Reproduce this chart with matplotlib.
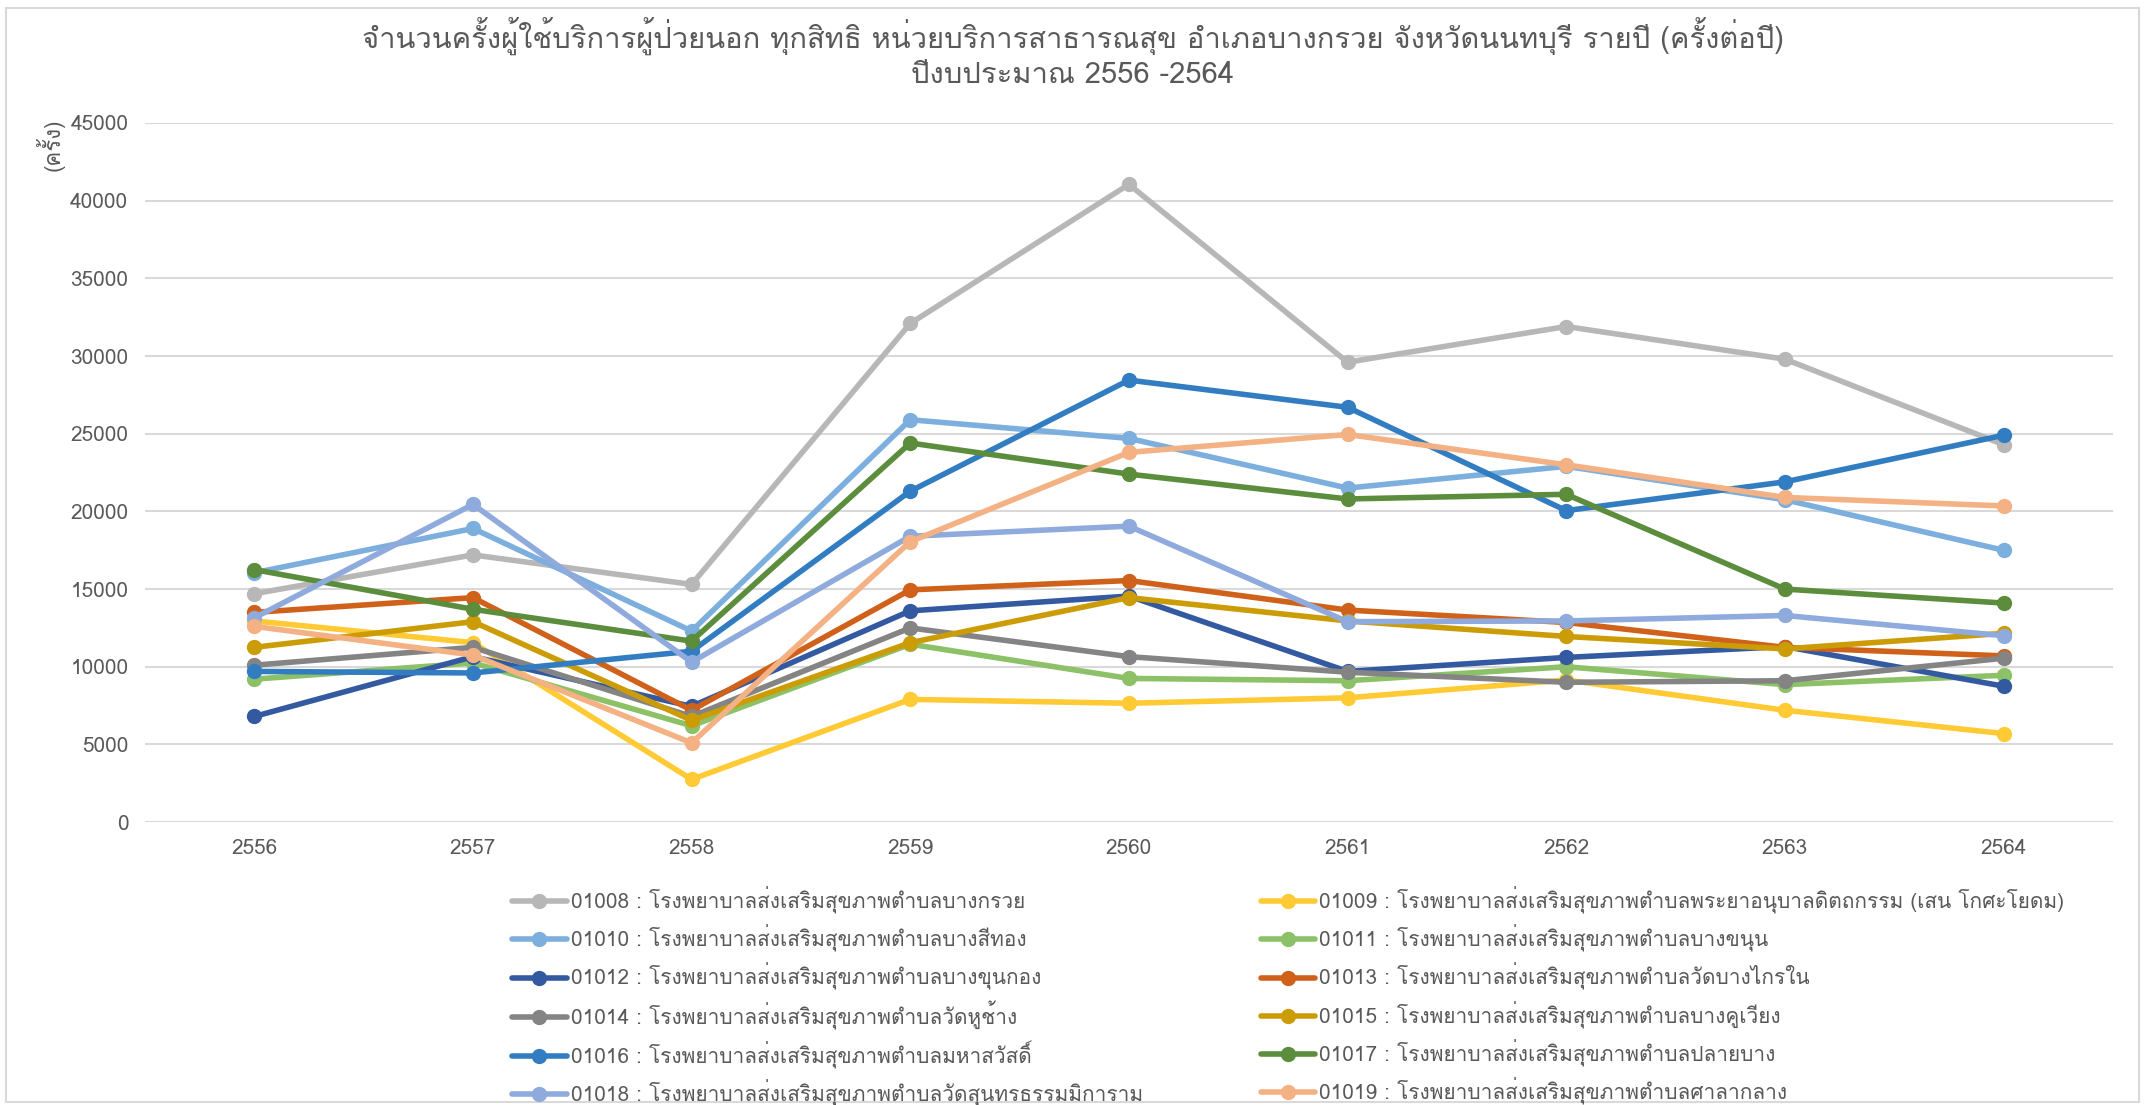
import matplotlib
matplotlib.use("Agg")
import matplotlib.pyplot as plt
from matplotlib import font_manager
from matplotlib.ft2font import FT2Font
from matplotlib.patches import Rectangle


def thai_fonts():
    # look for any installed font that carries Thai glyphs
    names = []
    for f in font_manager.fontManager.ttflist:
        try:
            if 0x0E01 in FT2Font(f.fname).get_charmap() and f.name not in names:
                names.append(f.name)
        except Exception:
            pass
    return names


years = ["2556", "2557", "2558", "2559", "2560", "2561", "2562", "2563", "2564"]

labels = [
    "01008 : โรงพยาบาลส่งเสริมสุขภาพตำบลบางกรวย",
    "01009 : โรงพยาบาลส่งเสริมสุขภาพตำบลพระยาอนุบาลดิตถกรรม (เสน โกศะโยดม)",
    "01010 : โรงพยาบาลส่งเสริมสุขภาพตำบลบางสีทอง",
    "01011 : โรงพยาบาลส่งเสริมสุขภาพตำบลบางขนุน",
    "01012 : โรงพยาบาลส่งเสริมสุขภาพตำบลบางขุนกอง",
    "01013 : โรงพยาบาลส่งเสริมสุขภาพตำบลวัดบางไกรใน",
    "01014 : โรงพยาบาลส่งเสริมสุขภาพตำบลวัดหูช้าง",
    "01015 : โรงพยาบาลส่งเสริมสุขภาพตำบลบางคูเวียง",
    "01016 : โรงพยาบาลส่งเสริมสุขภาพตำบลมหาสวัสดิ์",
    "01017 : โรงพยาบาลส่งเสริมสุขภาพตำบลปลายบาง",
    "01018 : โรงพยาบาลส่งเสริมสุขภาพตำบลวัดสุนทรธรรมมิการาม",
    "01019 : โรงพยาบาลส่งเสริมสุขภาพตำบลศาลากลาง",
]

v01008 = [14700, 17200, 15300, 32100, 41050, 29600, 31900, 29800, 24300]
v01009 = [12950, 11550, 2750, 7900, 7650, 8000, 9150, 7200, 5700]
v01010 = [16050, 18900, 12300, 25900, 24700, 21500, 22900, 20750, 17500]
v01011 = [9200, 10250, 6200, 11450, 9250, 9100, 10000, 8850, 9450]
v01012 = [6800, 10650, 7450, 13600, 14550, 9700, 10600, 11300, 8750]
v01013 = [13500, 14450, 7200, 14950, 15550, 13650, 12850, 11250, 10700]
v01014 = [10100, 11250, 6800, 12500, 10650, 9650, 9000, 9100, 10550]
v01015 = [11250, 12900, 6550, 11550, 14450, 12950, 11950, 11150, 12150]
v01016 = [9700, 9600, 11000, 21300, 28450, 26700, 20050, 21900, 24900]
v01017 = [16250, 13700, 11650, 24400, 22400, 20800, 21100, 15000, 14100]
v01018 = [13150, 20450, 10300, 18400, 19050, 12900, 12950, 13300, 12000]
v01019 = [12600, 10750, 5100, 18050, 23800, 24950, 23000, 20900, 20350]

series = [v01008, v01009, v01010, v01011, v01012, v01013,
          v01014, v01015, v01016, v01017, v01018, v01019]
colors = ["#B7B7B7", "#FFCA33", "#7CAFDD", "#8CC168", "#335AA1", "#D0611A",
          "#848484", "#CC9C06", "#327DC2", "#5B8D3C", "#8FAADC", "#F4B183"]

fams = thai_fonts() + ["DejaVu Sans"]
plt.rcParams["font.family"] = fams

text_color = "#595959"

fig = plt.figure(figsize=(21.45, 11.05), dpi=100)
fig.patches.append(Rectangle((0.003, 0.003), 0.994, 0.99, transform=fig.transFigure,
                             fill=False, edgecolor="#D9D9D9", linewidth=1.5))
ax = fig.add_axes([0.0676, 0.256, 0.9174, 0.6327])

x = list(range(len(years)))
handles = []
for vals, col, lab in zip(series, colors, labels):
    h, = ax.plot(x, vals, color=col, linewidth=4, marker="o", markersize=10,
                 label=lab, solid_capstyle="round")
    handles.append(h)

ax.set_xlim(-0.5, len(years) - 0.5)
ax.set_ylim(0, 45000)
ax.set_yticks(range(0, 45001, 5000))
ax.set_xticks(x)
ax.set_xticklabels(years)
ax.grid(axis="y", color="#D9D9D9", linewidth=1.5)
ax.set_axisbelow(True)
for s in ax.spines.values():
    s.set_visible(False)
ax.tick_params(length=0, labelsize=15, colors=text_color, pad=12)

fig.text(0.0236, 0.869, "(ครั้ง)", rotation=90, fontsize=16, color=text_color,
         ha="center", va="center")

fig.suptitle("จำนวนครั้งผู้ใช้บริการผู้ป่วยนอก ทุกสิทธิ หน่วยบริการสาธารณสุข อำเภอบางกรวย จังหวัดนนทบุรี รายปี (ครั้งต่อปี)\n"
             "ปีงบประมาณ 2556 -2564", y=0.985, fontsize=21, color=text_color, linespacing=1.3)

order = [0, 2, 4, 6, 8, 10, 1, 3, 5, 7, 9, 11]
fig.legend([handles[i] for i in order], [labels[i] for i in order], ncol=2,
           loc="upper left", bbox_to_anchor=(0.235, 0.2054), frameon=False,
           fontsize=15, labelcolor=text_color, handlelength=2.6, handletextpad=0.2,
           columnspacing=5.67, labelspacing=0.52, borderaxespad=0)

fig.savefig("out.png", dpi=100)
